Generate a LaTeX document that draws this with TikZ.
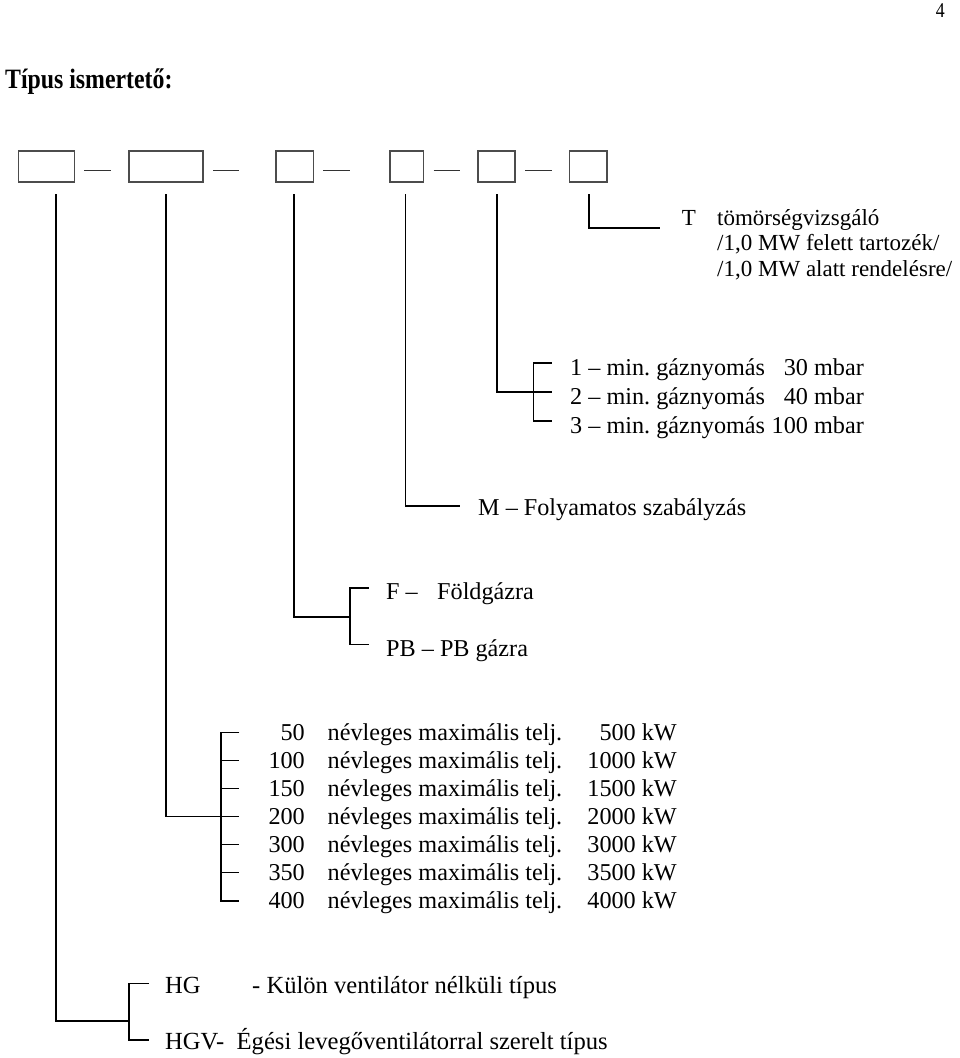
\documentclass[tikz,border=0pt]{standalone}
\usepackage{fontspec}
\setmainfont{Liberation Serif}
\frenchspacing
\begin{document}
\begin{tikzpicture}[x=1pt,y=-1pt,
  conn/.style={line width=1.6pt, black},
  boxst/.style={draw=black!70, line width=1.3pt, inner sep=0pt, minimum height=31pt},
  dashst/.style={line width=1.3pt, black!80},
  lab/.style={font=\fontsize{24.2}{29}\selectfont, inner sep=0pt, anchor=base west},
  labr/.style={lab, anchor=base east},
  labt/.style={lab, font=\fontsize{23}{28}\selectfont},
  labh/.style={lab, font=\fontsize{24.6}{29}\selectfont}]
\useasboundingbox (0,0) rectangle (960,1058);

% page number and title
\node[font=\fontsize{21}{24}\selectfont, inner sep=0pt, anchor=base east] (pg) at (945,17) {\scalebox{0.85}[1]{4}};
\node[font=\fontsize{28}{32}\bfseries\selectfont, inner sep=0pt, anchor=base west] (title) at (5,88) {\scalebox{0.85}[1]{Típus ismertető:}};

% code boxes
\node[boxst, minimum width=55.6pt] (b1) at (46.5,166.5) {};
\node[boxst, minimum width=74pt]   (b2) at (166,166.5) {};
\node[boxst, minimum width=37.3pt] (b3) at (294.7,166.5) {};
\node[boxst, minimum width=33.7pt] (b4) at (406.9,166.5) {};
\node[boxst, minimum width=37pt]   (b5) at (496.5,166.5) {};
\node[boxst, minimum width=37.3pt] (b6) at (588.4,166.5) {};
\draw[dashst] (84.3,170.5) -- (111,170.5);
\draw[dashst] (213.3,170.5) -- (239.3,170.5);
\draw[dashst] (323.3,170.5) -- (350,170.5);
\draw[dashst] (433.7,170.5) -- (460.3,170.5);
\draw[dashst] (525.3,170.5) -- (551.7,170.5);

% ---- branch 6: T
\coordinate (s6) at (588.7,194);
\coordinate (e6) at (660,228);
\draw[conn] (s6) |- (e6);
\node[labt] (T) at (681.7,225) {T};
\node[labt] (T1) at (717,225) {tömörségvizsgáló};
\node[labt] (T2) at (717,250.5) {/1,0 MW felett tartozék/};
\node[labt] (T3) at (717,276) {/1,0 MW alatt rendelésre/};

% ---- branch 5: gas pressure
\coordinate (s5) at (496.7,194);
\coordinate (k5) at (533.3,392);
\coordinate (p1) at (551.7,363);
\coordinate (p2) at (551.7,392);
\coordinate (p3) at (551.7,421);
\draw[conn] (s5) |- (p2);
\draw[conn] (p1) -| (k5) |- (p3);
\node[lab] (g1) at (570,375) {1 – min. gáznyomás};
\node[lab] (g2) at (570,404) {2 – min. gáznyomás};
\node[lab] (g3) at (570,433) {3 – min. gáznyomás};
\node[labr] (v1) at (864,375) {30 mbar};
\node[labr] (v2) at (864,404) {40 mbar};
\node[labr] (v3) at (864,433) {100 mbar};

% ---- branch 4: M
\coordinate (s4) at (405.3,194);
\coordinate (e4) at (460,506);
\draw[conn] (s4) |- (e4);
\node[lab] (M) at (478,515) {M – Folyamatos szabályzás};

% ---- branch 3: gas type
\coordinate (s3) at (294,194);
\coordinate (k3) at (349.7,616.7);
\coordinate (f1) at (368.8,587.7);
\coordinate (f2) at (368.8,644.3);
\draw[conn] (s3) |- (k3);
\draw[conn] (f1) -| (k3) |- (f2);
\node[lab] (F) at (386,599) {F –};
\node[lab] (F1) at (437,599) {Földgázra};
\node[lab] (PB) at (386,656) {PB – PB gázra};

% ---- branch 2: power
\coordinate (s2) at (166,194);
\coordinate (e2) at (239.3,816.5);
\coordinate (q0) at (239.3,732.3);
\coordinate (q6) at (239.3,900.7);
\coordinate (k2) at (220.7,816.5);
\draw[conn] (s2) |- (e2);
\draw[conn] (q0) -| (k2) |- (q6);
\foreach \i in {1,2,4,5}{
  \coordinate (q\i) at (239.3,732.3+28.07*\i);
  \draw[conn] (220.7,732.3+28.07*\i) -- (q\i);
}
\foreach \i/\n/\k in {0/50/500,1/100/1000,2/150/1500,3/200/2000,4/300/3000,5/350/3500,6/400/4000}{
  \node[labr] (n\i) at (305,740.3+28.07*\i) {\n};
  \node[lab]  (d\i) at (327.5,740.3+28.07*\i) {névleges maximális telj.};
  \node[labr] (w\i) at (677,740.3+28.07*\i) {\k\ kW};
}

% ---- branch 1: fan
\coordinate (s1) at (55.7,194);
\coordinate (k1) at (128.8,1021);
\coordinate (h1) at (149,983.3);
\coordinate (h2) at (149,1040);
\draw[conn] (s1) |- (k1);
\draw[conn] (h1) -| (k1) |- (h2);
\node[labh] (HG) at (165,993) {HG};
\node[labh] (HG1) at (252,993) {- Külön ventilátor nélküli típus};
\node[labh] (HGV) at (165,1049) {HGV-\ \ Égési levegőventilátorral szerelt típus};
\end{tikzpicture}
\end{document}
